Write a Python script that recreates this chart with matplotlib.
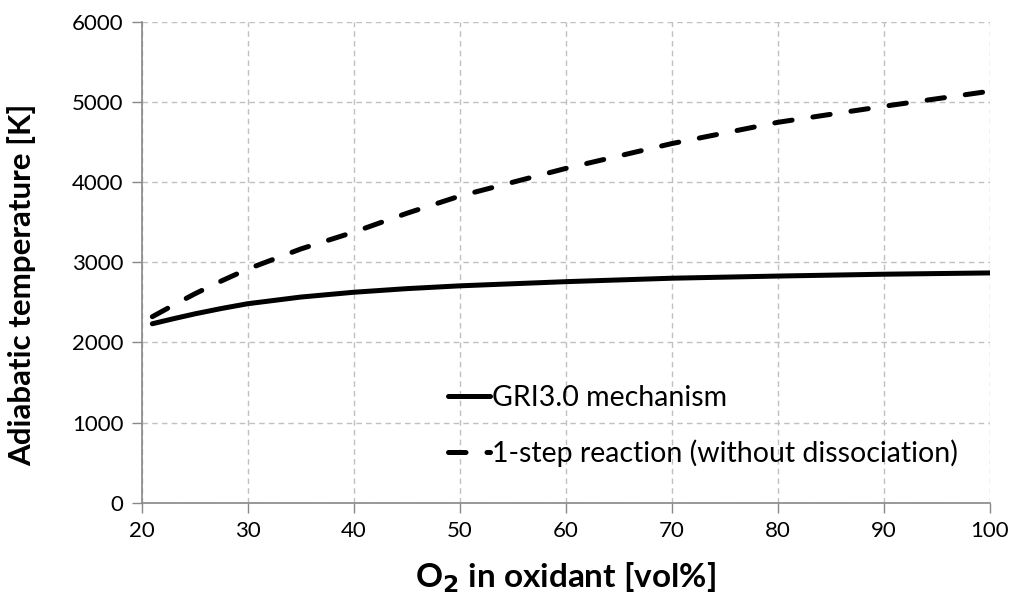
import matplotlib.pyplot as plt

# ── Data ─────────────────────────────────────────────────────
o2_pct = [21, 23, 25, 27.5, 30, 35, 40, 45, 50, 60, 70, 80, 90, 100]
t_gri = [2232, 2295, 2355, 2422, 2482, 2565, 2625, 2670, 2705, 2757, 2800, 2827, 2850, 2866]
t_1step = [2320, 2465, 2605, 2765, 2915, 3165, 3375, 3610, 3825, 4170, 4480, 4745, 4945, 5133]

xticks = [20, 30, 40, 50, 60, 70, 80, 90, 100]
yticks = [0, 1000, 2000, 3000, 4000, 5000, 6000]

plt.rcParams['font.family'] = ['Lato', 'DejaVu Sans']

# ── Plot ─────────────────────────────────────────────────────
fig = plt.figure(figsize=(10.16, 6.06), dpi=100)
ax = fig.add_axes([0.1395, 0.1705, 0.8349, 0.7937])

ax.plot(o2_pct, t_gri, color='black', linewidth=3.6,
        solid_capstyle='round', label='GRI3.0 mechanism')
ax.plot(o2_pct, t_1step, color='black', linewidth=3.6,
        linestyle=(0, (3.5, 4.2)), dash_capstyle='round',
        label='1-step reaction (without dissociation)')

ax.set_xlim(20, 100)
ax.set_ylim(0, 6000)
ax.set_xticks(xticks)
ax.set_yticks(yticks)
ax.tick_params(axis='both', labelsize=16, length=7, width=1,
               color='#888888', pad=6)

ax.grid(True, color='#c0c0c0', linestyle=(0, (4, 3)), linewidth=1)
ax.set_axisbelow(True)
for side in ['top', 'right']:
    ax.spines[side].set_visible(False)
for side in ['left', 'bottom']:
    ax.spines[side].set_color('#888888')
    ax.spines[side].set_linewidth(1.2)

ax.set_xlabel('O$_\\mathbf{2}$ in oxidant [vol%]', fontsize=24,
              fontweight='bold', labelpad=14)
ax.set_ylabel('Adiabatic temperature [K]', fontsize=22.5,
              fontweight='bold')
ax.yaxis.set_label_coords(-0.125, 0.4526)

ax.legend(loc='lower right', bbox_to_anchor=(0.9785, 0.045), frameon=False,
          fontsize=20.5, handlelength=1.5, handletextpad=0.05,
          labelspacing=0.98, borderpad=0)

plt.savefig('out.png', dpi=100)
